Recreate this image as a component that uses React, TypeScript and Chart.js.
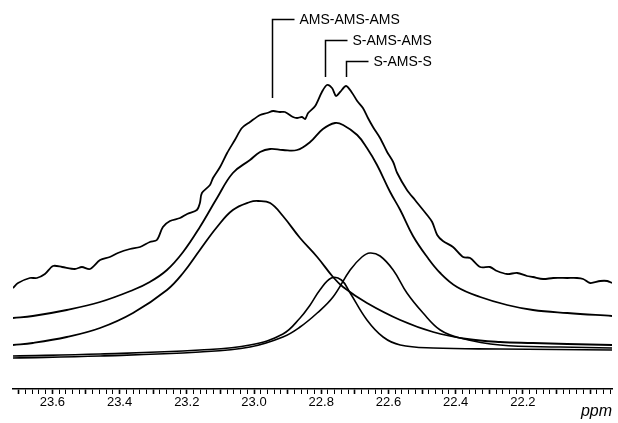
import React, { useEffect, useRef } from 'react';
import { Chart, registerables } from 'chart.js';

Chart.register(...registerables);

// ---- axis ----
const ppmMin = 21.935;
const ppmMax = 23.717;
const tickLabels = ['23.6', '23.4', '23.2', '23.0', '22.8', '22.6', '22.4', '22.2'];
const axisUnit = 'ppm';

// ---- experimental spectrum ----
const spectrumPpm = [23.717, 23.702, 23.667, 23.646, 23.622, 23.598, 23.571, 23.533, 23.512, 23.488, 23.458, 23.429, 23.405, 23.369, 23.339, 23.310, 23.289, 23.271, 23.250, 23.220, 23.199, 23.170, 23.161, 23.155, 23.131, 23.122, 23.101, 23.080, 23.057, 23.036, 23.012, 22.982, 22.961, 22.943, 22.923, 22.908, 22.884, 22.872, 22.857, 22.848, 22.839, 22.818, 22.798, 22.783, 22.768, 22.756, 22.744, 22.726, 22.708, 22.693, 22.676, 22.661, 22.646, 22.625, 22.604, 22.586, 22.574, 22.545, 22.521, 22.485, 22.470, 22.455, 22.438, 22.408, 22.378, 22.357, 22.327, 22.298, 22.277, 22.247, 22.217, 22.188, 22.170, 22.140, 22.110, 22.068, 22.039, 22.021, 22.000, 21.970, 21.949, 21.935];
const spectrumInt = [101, 106, 111, 111, 115, 123, 122, 120, 122, 120, 129, 132, 136, 140, 142, 147, 149, 162, 168, 171, 175, 179, 186, 196, 204, 211, 222, 236, 249, 261, 267, 274, 276, 278, 277, 277, 272, 271, 272, 270, 276, 283, 297, 304, 301, 293, 297, 303, 296, 288, 281, 271, 262, 251, 237, 227, 216, 199, 189, 174, 167, 154, 148, 142, 132, 131, 122, 122, 118, 115, 116, 113, 112, 110, 111, 111, 111, 110, 106, 108, 108, 106];

// ---- fitted sum ----
const fitPpm = [23.717, 23.658, 23.557, 23.458, 23.360, 23.310, 23.259, 23.211, 23.161, 23.110, 23.063, 23.012, 22.982, 22.952, 22.914, 22.872, 22.833, 22.795, 22.759, 22.735, 22.693, 22.664, 22.634, 22.595, 22.565, 22.527, 22.485, 22.446, 22.396, 22.327, 22.247, 22.170, 22.068, 21.935];
const fitInt = [71, 73, 79, 87, 99, 107, 119, 137, 162, 191, 216, 229, 237, 240, 239, 239, 247, 260, 266, 264, 254, 241, 224, 197, 179, 153, 132, 116, 102, 92, 84, 79, 76, 73];

// ---- component: AMS-AMS-AMS ----
const aaaPpm = [23.717, 23.658, 23.557, 23.458, 23.360, 23.259, 23.211, 23.161, 23.110, 23.063, 23.012, 22.988, 22.952, 22.914, 22.863, 22.812, 22.765, 22.735, 22.664, 22.565, 22.467, 22.366, 22.268, 22.170, 22.068, 21.935];
const aaaInt = [44, 46, 52, 61, 76, 99, 116, 139, 162, 179, 187, 188, 186, 173, 151, 132, 112, 102, 86, 69, 57, 50, 47, 46, 45, 44];

// ---- component: S-AMS-AMS ----
const saaPpm = [23.717, 23.458, 23.161, 23.012, 22.914, 22.863, 22.833, 22.804, 22.770, 22.740, 22.714, 22.664, 22.616, 22.565, 22.467, 22.268, 21.935];
const saaInt = [33, 35, 39, 44, 55, 71, 84, 99, 111, 109, 96, 69, 52, 44, 41, 40, 39];

// ---- component: S-AMS-S ----
const sasPpm = [23.717, 23.458, 23.161, 23.012, 22.914, 22.863, 22.812, 22.765, 22.714, 22.679, 22.655, 22.625, 22.586, 22.545, 22.497, 22.446, 22.387, 22.268, 22.089, 21.935];
const sasInt = [31, 33, 37, 42, 52, 62, 76, 92, 119, 132, 136, 133, 119, 96, 76, 59, 51, 44, 42, 41];

// ---- peak assignments ----
const peakLabels = ['AMS-AMS-AMS', 'S-AMS-AMS', 'S-AMS-S'];
const peakPpm = [22.946, 22.789, 22.726];
const peakMarkTop = [370, 349, 328];
const peakMarkBottom = [291, 312, 312];

const pts = (xs: number[], ys: number[]) => xs.map((x, i) => ({ x, y: ys[i] }));

const annotPlugin = {
  id: 'annot',
  afterDatasetsDraw(chart: any) {
    const { ctx, scales } = chart;
    const x = scales.x;
    const y = scales.y;
    ctx.save();
    ctx.strokeStyle = '#000';
    ctx.fillStyle = '#000';
    ctx.lineWidth = 1.5;
    ctx.font = '14px "Liberation Sans", Arial, sans-serif';
    ctx.textBaseline = 'middle';
    ctx.textAlign = 'left';
    peakLabels.forEach((t, i) => {
      const px = Math.round(x.getPixelForValue(peakPpm[i])) + 0.5;
      const top = Math.round(y.getPixelForValue(peakMarkTop[i])) + 0.5;
      const bot = y.getPixelForValue(peakMarkBottom[i]);
      ctx.beginPath();
      ctx.moveTo(px, bot);
      ctx.lineTo(px, top);
      ctx.lineTo(px + 22, top);
      ctx.stroke();
      ctx.fillText(t, px + 27, top + 1);
    });
    ctx.font = 'italic 16px "Liberation Sans", Arial, sans-serif';
    ctx.textAlign = 'right';
    ctx.textBaseline = 'alphabetic';
    ctx.fillText(axisUnit, x.right, 416);
    ctx.restore();
  },
};

export default function App() {
  const ref = useRef<HTMLCanvasElement | null>(null);
  useEffect(() => {
    if (!ref.current) return;
    const line = (data: any[], width: number, tension: number) => ({
      data,
      borderColor: '#000',
      borderWidth: width,
      pointRadius: 0,
      fill: false,
      tension,
    });
    const chart = new Chart(ref.current, {
      type: 'line',
      data: {
        datasets: [
          line(pts(spectrumPpm, spectrumInt), 1.8, 0.3),
          line(pts(fitPpm, fitInt), 1.8, 0.4),
          line(pts(aaaPpm, aaaInt), 1.8, 0.4),
          line(pts(saaPpm, saaInt), 1.6, 0.4),
          line(pts(sasPpm, sasInt), 1.6, 0.4),
        ] as any,
      },
      options: {
        animation: false,
        responsive: false,
        layout: { padding: { left: 13, right: 6, top: 0, bottom: 0 } },
        plugins: { legend: { display: false }, tooltip: { enabled: false } },
        scales: {
          x: {
            type: 'linear',
            reverse: true,
            min: ppmMin,
            max: ppmMax,
            afterBuildTicks: (scale: any) => {
              const vals: { value: number }[] = [];
              for (let k = Math.ceil(ppmMin * 50); k <= Math.floor(ppmMax * 50); k++) {
                vals.push({ value: k / 50 });
              }
              scale.ticks = vals;
            },
            afterFit: (scale: any) => {
              scale.height = 34;
            },
            ticks: {
              autoSkip: false,
              maxRotation: 0,
              minRotation: 0,
              padding: 1,
              color: '#000',
              font: { family: '"Liberation Sans Narrow", "Liberation Sans", Arial, sans-serif', size: 13 },
              callback: (v: any) => {
                const s = Number(v).toFixed(1);
                const onStep = Math.abs(Number(v) * 5 - Math.round(Number(v) * 5)) < 1e-6;
                return onStep && tickLabels.includes(s) ? s : '';
              },
            },
            grid: {
              drawOnChartArea: false,
              drawTicks: true,
              tickLength: 5,
              tickColor: '#000',
              tickWidth: (c: any) => {
                const v = c.tick ? c.tick.value : 0;
                return Math.abs(v * 10 - Math.round(v * 10)) < 1e-6 ? 1.6 : 1;
              },
            },
            border: { display: true, color: '#000', width: 1.6 },
          },
          y: {
            display: false,
            min: 0,
            max: 389,
          },
        },
      },
      plugins: [annotPlugin],
    } as any);
    return () => chart.destroy();
  }, []);
  return (
    <div style={{ position: 'fixed', left: 0, top: 0, width: 618, height: 423, background: '#fff' }}>
      <canvas ref={ref} width={618} height={423} style={{ display: 'block' }} />
    </div>
  );
}
